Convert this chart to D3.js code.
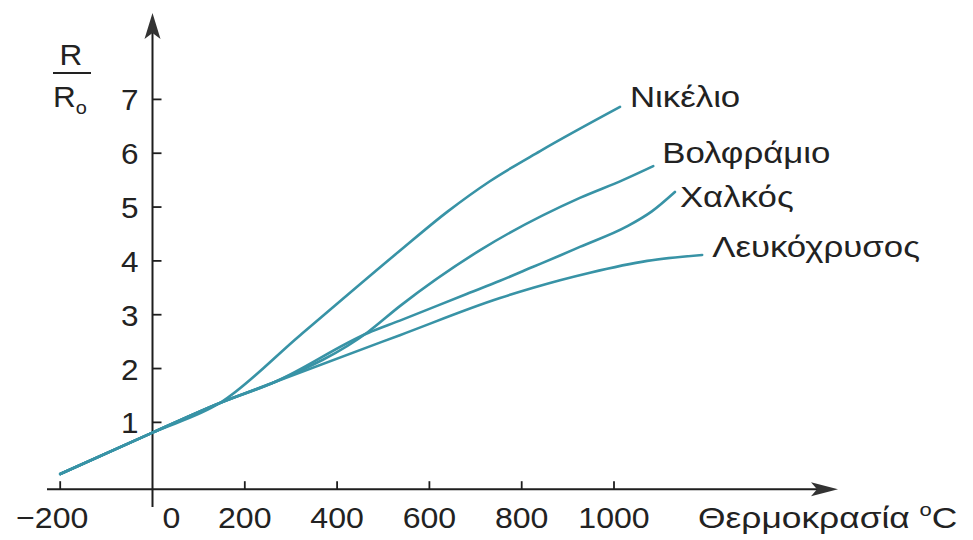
<!DOCTYPE html>
<html>
<head>
<meta charset="utf-8">
<script src="https://cdn.jsdelivr.net/npm/d3@7"></script>
<style>
  html, body { margin: 0; padding: 0; background: #ffffff; }
  svg { display: block; font-family: "Liberation Sans", Arial, sans-serif; }
</style>
</head>
<body>
<svg id="chart" width="973" height="540"></svg>
<script>
// ---- Data ----
const xTicks = [-200, 0, 200, 400, 600, 800, 1000];
const yTicks = [1, 2, 3, 4, 5, 6, 7];
const seriesNames = ["Νικέλιο", "Βολφράμιο", "Χαλκός", "Λευκόχρυσος"];

// temperature (°C), R/Ro
const nickel = [[-200,0.04],[0,0.81],[146,1.36],[320,2.62],[532,4.16],[640,4.92],[731,5.48],[840,6.04],[1013,6.86]];
const tungsten = [[-200,0.04],[0,0.81],[146,1.36],[265,1.75],[467,2.68],[536,3.16],[710,4.20],[926,5.17],[1019,5.50],[1085,5.76]];
const copper = [[-200,0.04],[0,0.81],[146,1.36],[265,1.75],[467,2.66],[536,2.89],[682,3.39],[753,3.63],[825,3.89],[883,4.10],[926,4.26],[1028,4.64],[1082,4.92],[1132,5.28]];
const platinum = [[-200,0.04],[0,0.81],[146,1.36],[265,1.75],[536,2.62],[753,3.31],[825,3.50],[883,3.64],[948,3.78],[1072,4.00],[1191,4.11]];

const series = [nickel, tungsten, copper, platinum];

// ---- Layout ----
const svg = d3.select("#chart");
const x = d3.scaleLinear().domain([-200, 1000]).range([60.2, 614]);
const y = d3.scaleLinear().domain([0, 7]).range([476.2, 99.4]);

const axisColor = "#1e1e1e";
const lineColor = "#3893a6";
const textColor = "#222";
const x0 = x(0);
const axisY = y(0) + 13;

// helper: horizontally widened text (reference glyphs are wide)
function wideText(parent, px, py, str, size, sx, anchor) {
  const g = parent.append("g").attr("transform", `translate(${px},${py}) scale(${sx},1)`);
  return g.append("text").attr("x", 0).attr("y", 0)
    .attr("font-size", size).attr("fill", textColor)
    .attr("text-anchor", anchor || "start").text(str);
}

// Axes lines
svg.append("line").attr("x1", x0).attr("x2", x0).attr("y1", 30).attr("y2", 507)
  .attr("stroke", axisColor).attr("stroke-width", 2);
svg.append("line").attr("x1", 47).attr("x2", 820).attr("y1", axisY).attr("y2", axisY)
  .attr("stroke", axisColor).attr("stroke-width", 2);

// Arrowheads
svg.append("path")
  .attr("d", `M${x0},13 L${x0+8},39 L${x0},33 L${x0-8},39 Z`)
  .attr("fill", "#333");
svg.append("path")
  .attr("d", `M838,${axisY} L811,${axisY-7} L817,${axisY} L811,${axisY+7} Z`)
  .attr("fill", "#333");

// Y ticks
const yt = svg.append("g");
yt.selectAll("line").data(yTicks).join("line")
  .attr("x1", x0).attr("x2", x0 + 9)
  .attr("y1", d => y(d)).attr("y2", d => y(d))
  .attr("stroke", axisColor).attr("stroke-width", 1.8);
yTicks.forEach(d => wideText(yt, x0 - 14, y(d) + 11, String(d), 30, 1.05, "end"));

// X ticks
const xt = svg.append("g");
xt.selectAll("line").data(xTicks.filter(d => d !== 0)).join("line")
  .attr("x1", d => x(d)).attr("x2", d => x(d))
  .attr("y1", axisY).attr("y2", axisY - 8)
  .attr("stroke", axisColor).attr("stroke-width", 1.8);
xTicks.forEach(d => {
  const px = x(d) + (d === 0 ? 19 : d < 0 ? -8 : 0);
  wideText(xt, px, 528, d < 0 ? "\u2212" + Math.abs(d) : String(d), 30, 1.07, "middle");
});

// Axis titles
const xl = wideText(svg, 698, 528, "", 29, 1.22, "start");
xl.append("tspan").text("Θερμοκρασία ");
xl.append("tspan").attr("font-size", 18).attr("dy", -12).text("o");
xl.append("tspan").attr("dy", 12).text("C");

wideText(svg, 71, 65, "R", 30, 1.05, "middle");
svg.append("line").attr("x1", 53).attr("x2", 91).attr("y1", 73).attr("y2", 73)
  .attr("stroke", textColor).attr("stroke-width", 2);
const rl = wideText(svg, 53, 107, "", 30, 1.05, "start");
rl.append("tspan").text("R");
rl.append("tspan").attr("font-size", 19).attr("dy", 7).text("o");

// Curves
const line = d3.line().x(d => x(d[0])).y(d => y(d[1])).curve(d3.curveMonotoneX);
svg.append("g").selectAll("path").data(series).join("path")
  .attr("d", line)
  .attr("fill", "none")
  .attr("stroke", lineColor)
  .attr("stroke-width", 2.6)
  .attr("stroke-linecap", "round");

// Labels at line ends
const labelOffsets = [[10, 0], [9, -3], [5, 15], [10, 2]];
const lg = svg.append("g");
series.forEach((s, i) => {
  const last = s[s.length - 1];
  wideText(lg, x(last[0]) + labelOffsets[i][0], y(last[1]) + labelOffsets[i][1], seriesNames[i], 29, 1.2, "start");
});
</script>
</body>
</html>
